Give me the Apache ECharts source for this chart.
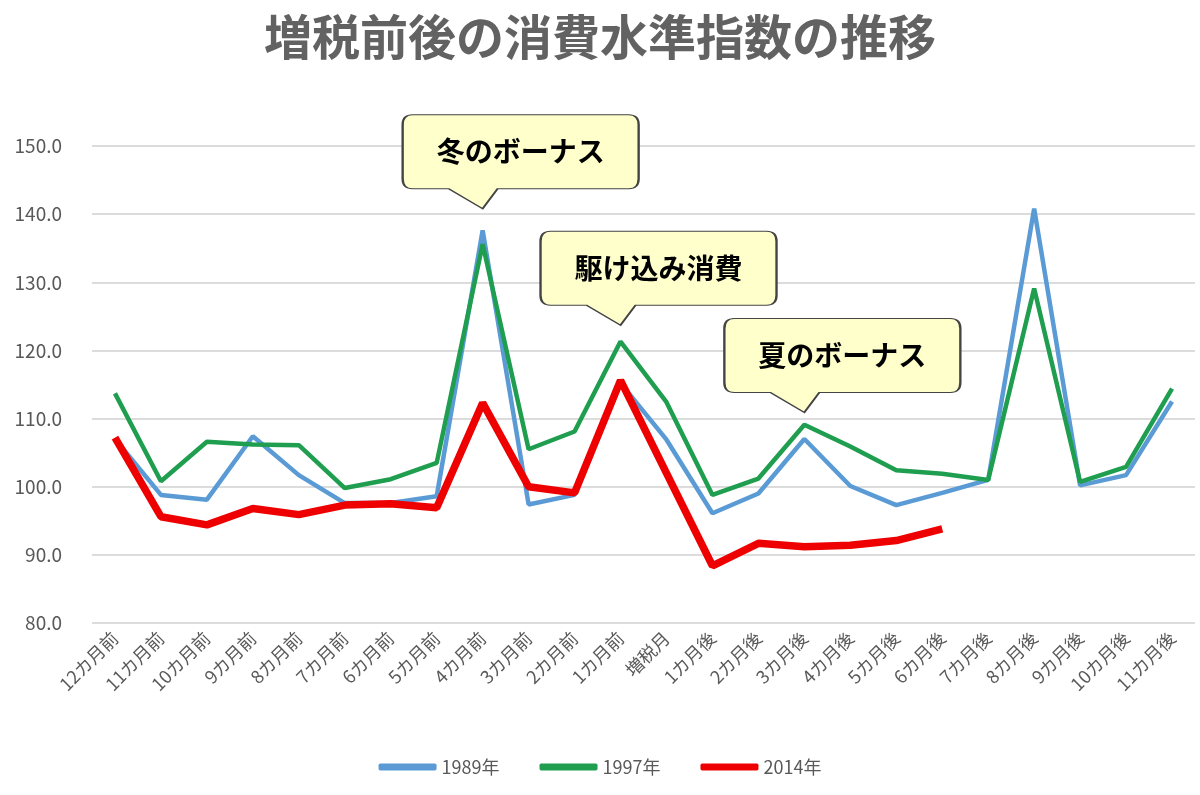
<!DOCTYPE html>
<html>
<head>
<meta charset="utf-8">
<script src="https://cdn.jsdelivr.net/npm/echarts@6/dist/echarts.min.js"></script>
<style>
  html, body { margin: 0; padding: 0; background: #fff; }
  #chart { width: 1200px; height: 795px; }
</style>
</head>
<body>
<div id="chart"></div>
<script>
// categories: months around the tax hike
var months = ['12カ月前', '11カ月前', '10カ月前', '9カ月前', '8カ月前', '7カ月前', '6カ月前', '5カ月前',
  '4カ月前', '3カ月前', '2カ月前', '1カ月前', '増税月', '1カ月後', '2カ月後', '3カ月後', '4カ月後',
  '5カ月後', '6カ月後', '7カ月後', '8カ月後', '9カ月後', '10カ月後', '11カ月後'];

// consumption level index
var s1989 = [107.0, 98.8, 98.1, 107.4, 101.7, 97.6, 97.6, 98.6, 137.6, 97.4, 98.8, 115.2, 106.9, 96.1,
  99.0, 107.0, 100.1, 97.3, 99.1, 101.0, 140.8, 100.2, 101.7, 112.5];
var s1997 = [113.7, 100.8, 106.6, 106.2, 106.1, 99.8, 101.1, 103.5, 135.6, 105.5, 108.1, 121.3, 112.4, 98.8,
  101.2, 109.1, 105.9, 102.4, 101.9, 101.0, 129.1, 100.7, 102.9, 114.4];
var s2014 = [107.2, 95.6, 94.4, 96.8, 95.9, 97.3, 97.5, 96.9, 112.3, 100.0, 99.1, 115.6, 102.0, 88.4,
  91.7, 91.2, 91.4, 92.1, 93.8, null, null, null, null, null];

var seriesNames = ['1989年', '1997年', '2014年'];

// callout notes: text, category, value where the pointer ends
var noteText = ['冬のボーナス', '駆け込み消費', '夏のボーナス'];
var noteAt = ['4カ月前', '1カ月前', '3カ月後'];
var noteTip = [140.8, 123.7, 110.9];

var gray = '#595959';
var font = '"Noto Sans CJK JP", "Noto Sans", sans-serif';

// speech bubble: rounded box 236x74 with a pointer, tip at (80, 94)
var bubble = 'path://M10,0 H226 Q236,0 236,10 V64 Q236,74 226,74 H95 L80,94 L46,74 H10 Q0,74 0,64 V10 Q0,0 10,0 Z';

var notes = noteText.map(function (t, i) {
  return { name: t, coord: [noteAt[i], noteTip[i]] };
});

var chart = echarts.init(document.getElementById('chart'));

var option = {
  animation: false,
  backgroundColor: '#fff',
  textStyle: { fontFamily: font },
  title: {
    text: '増税前後の消費水準指数の推移',
    left: 'center',
    top: 8,
    textStyle: { fontFamily: font, fontSize: 48, fontWeight: 'bold', color: '#626262' }
  },
  legend: {
    bottom: 14,
    left: 'center',
    icon: 'roundRect',
    itemWidth: 58,
    itemHeight: 7,
    itemGap: 40,
    textStyle: { fontFamily: font, fontSize: 18, color: gray },
    data: seriesNames
  },
  grid: { left: 92, right: 5, top: 146, bottom: 172 },
  xAxis: {
    type: 'category',
    data: months,
    boundaryGap: true,
    axisLine: { show: false },
    axisTick: { show: false },
    axisLabel: {
      rotate: 45,
      interval: 0,
      margin: 12,
      fontFamily: font,
      fontSize: 18,
      color: gray
    }
  },
  yAxis: {
    type: 'value',
    min: 80,
    max: 150,
    interval: 10,
    axisLine: { show: false },
    axisTick: { show: false },
    axisLabel: {
      margin: 30,
      fontFamily: font,
      fontSize: 19,
      color: gray,
      formatter: function (v) { return v.toFixed(1); }
    },
    splitLine: { lineStyle: { color: '#d0d0d0', width: 1.5 } }
  },
  series: [
    {
      name: seriesNames[0],
      type: 'line',
      data: s1989,
      symbol: 'none',
      color: '#5b9bd5',
      lineStyle: { width: 4.5, color: '#5b9bd5' },
      z: 2,
      markPoint: {
        symbol: bubble,
        symbolSize: [236, 94],
        symbolOffset: [38, -47],
        itemStyle: { color: '#ffffcc', borderColor: '#444', borderWidth: 1.5 },
        label: {
          show: true,
          position: 'inside',
          offset: [0, -10],
          formatter: '{b}',
          fontFamily: font,
          fontSize: 28,
          fontWeight: 'bold',
          color: '#000'
        },
        data: notes,
        z: 10
      }
    },
    {
      name: seriesNames[1],
      type: 'line',
      data: s1997,
      symbol: 'none',
      color: '#1e9e4e',
      lineStyle: { width: 4.5, color: '#1e9e4e' },
      z: 3
    },
    {
      name: seriesNames[2],
      type: 'line',
      data: s2014,
      symbol: 'none',
      color: '#ee0000',
      lineStyle: { width: 7.5, color: '#ee0000' },
      z: 4
    }
  ]
};

chart.setOption(option);
</script>
</body>
</html>
